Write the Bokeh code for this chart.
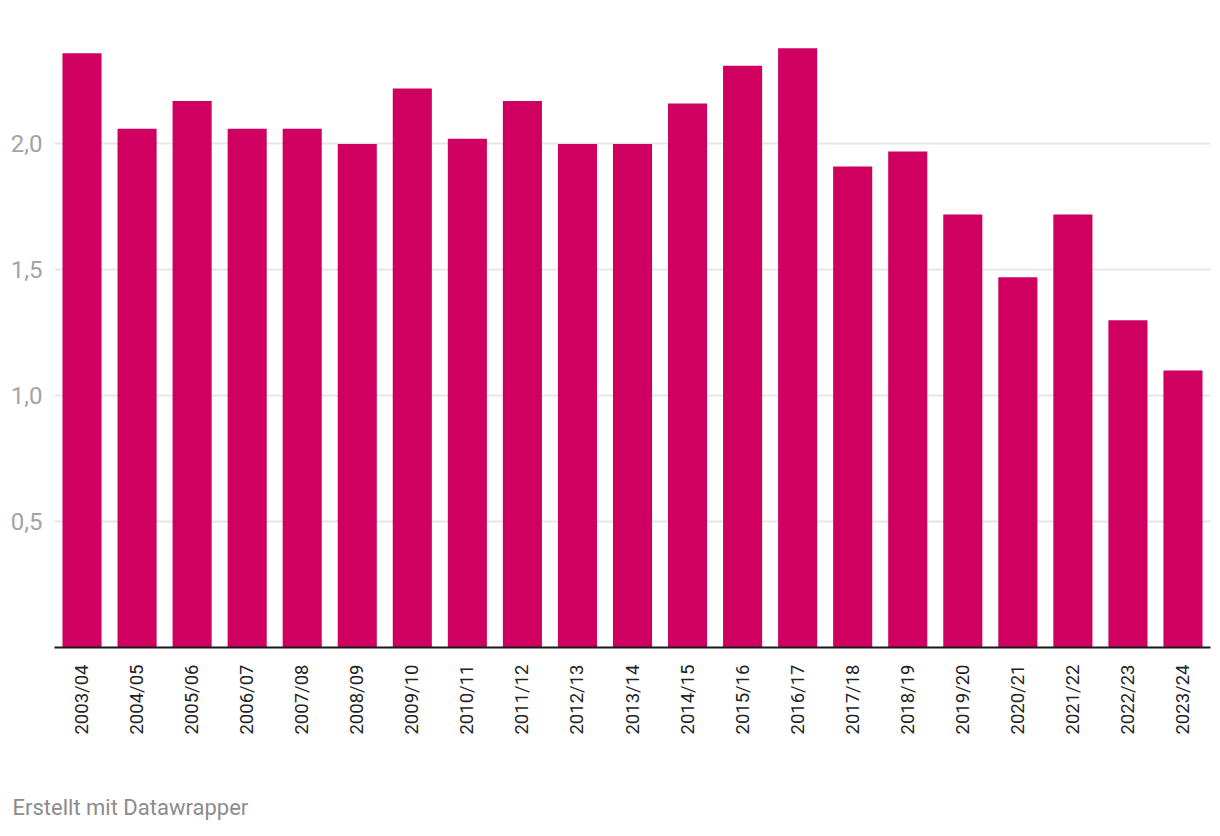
import math
from bokeh.plotting import figure
from bokeh.models import ColumnDataSource, FixedTicker, Title, FactorRange, Range1d
from bokeh.embed import file_html
from bokeh.resources import INLINE

seasons = ["2003/04", "2004/05", "2005/06", "2006/07", "2007/08", "2008/09", "2009/10",
           "2010/11", "2011/12", "2012/13", "2013/14", "2014/15", "2015/16", "2016/17",
           "2017/18", "2018/19", "2019/20", "2020/21", "2021/22", "2022/23", "2023/24"]
values = [2.36, 2.06, 2.17, 2.06, 2.06, 2.00, 2.22, 2.02, 2.17, 2.00, 2.00, 2.16, 2.31, 2.38,
          1.91, 1.97, 1.72, 1.47, 1.72, 1.30, 1.10]
y_ticks = [0.5, 1.0, 1.5, 2.0]
y_tick_labels = ["0,5", "1,0", "1,5", "2,0"]
footer = "Erstellt mit Datawrapper"

source = ColumnDataSource(dict(season=seasons, value=values))

p = figure(x_range=FactorRange(*seasons, range_padding=0), y_range=Range1d(0, 2.49),
           frame_width=1156, frame_height=627, output_backend="svg", toolbar_location=None,
           min_border_left=54, min_border_right=2, min_border_top=20, min_border_bottom=0)
p.outline_line_color = None
p.background_fill_color = "white"
p.border_fill_color = "white"

p.vbar(x="season", top="value", width=0.71, source=source, color="#cf0060", line_color=None)

# y axis
p.yaxis.ticker = FixedTicker(ticks=y_ticks)
p.yaxis.major_label_overrides = {t: l for t, l in zip(y_ticks, y_tick_labels)}
p.yaxis.axis_line_color = None
p.yaxis.major_tick_line_color = None
p.yaxis.major_tick_out = 0
p.yaxis.major_tick_in = 0
p.yaxis.minor_tick_line_color = None
p.yaxis.major_label_standoff = 12
p.yaxis.major_label_text_font = "Roboto"
p.yaxis.major_label_text_font_size = "24px"
p.yaxis.major_label_text_color = "#a3a3a3"

p.ygrid.ticker = FixedTicker(ticks=y_ticks)
p.ygrid.grid_line_color = "#e6e6e6"
p.ygrid.grid_line_width = 2
p.xgrid.grid_line_color = None

# x axis
p.xaxis.axis_line_color = "#1a1a1a"
p.xaxis.axis_line_width = 2
p.xaxis.major_tick_line_color = None
p.xaxis.major_tick_out = 0
p.xaxis.major_tick_in = 0
p.xaxis.minor_tick_line_color = None
p.xaxis.major_label_orientation = math.pi / 2
p.xaxis.major_label_standoff = 17
p.xaxis.major_label_text_font = "Roboto"
p.xaxis.major_label_text_font_size = "18.5px"
p.xaxis.major_label_text_color = "#222222"

p.add_layout(Title(text=footer, align="left", offset=-42, standoff=111,
                   text_font="Roboto", text_font_size="22px", text_color="#8c8c8c",
                   text_font_style="normal"), "below")

open("out.html", "w").write(file_html(p, INLINE))
